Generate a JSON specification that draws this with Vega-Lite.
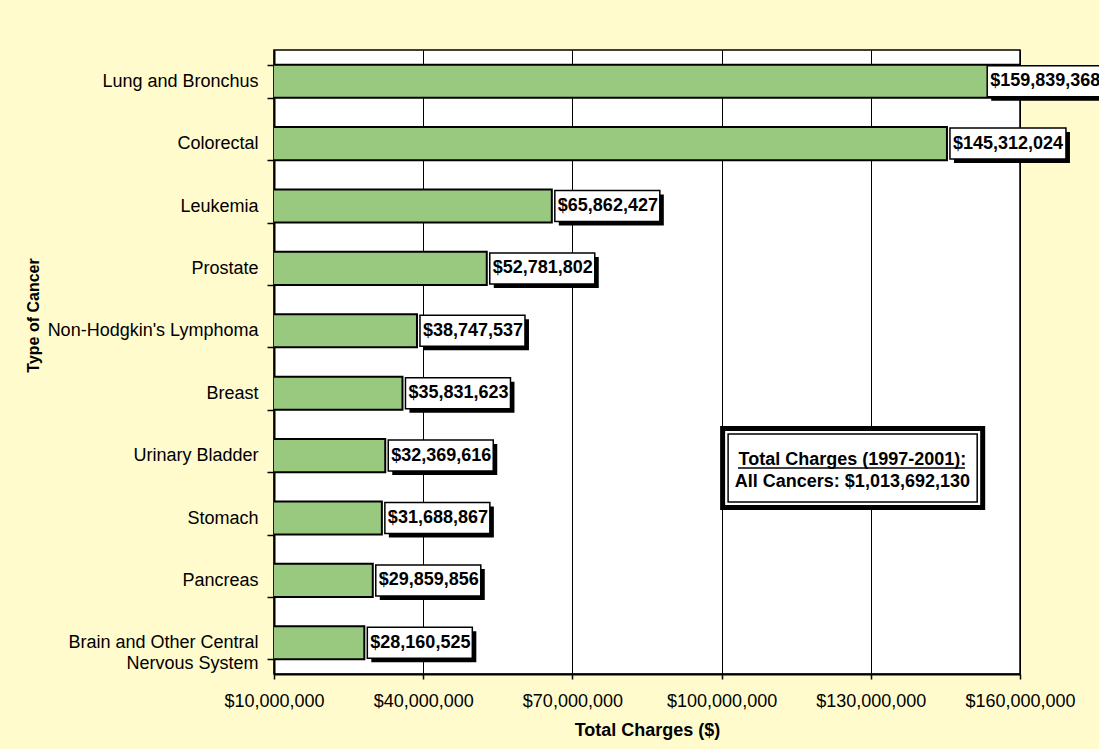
{
  "$schema": "https://vega.github.io/schema/vega-lite/v6.json",
  "width": 746,
  "height": 624,
  "autosize": {"type": "none"},
  "padding": {"left": 274, "top": 50, "right": 79, "bottom": 75},
  "background": "#FFFBCD",
  "config": {
    "font": "Liberation Sans",
    "view": {"fill": "white", "stroke": "black", "strokeWidth": 1.5}
  },
  "datasets": {
    "cancer": [
      {"cancer": "Lung and Bronchus", "value": 159839368},
      {"cancer": "Colorectal", "value": 145312024},
      {"cancer": "Leukemia", "value": 65862427},
      {"cancer": "Prostate", "value": 52781802},
      {"cancer": "Non-Hodgkin's Lymphoma", "value": 38747537},
      {"cancer": "Breast", "value": 35831623},
      {"cancer": "Urinary Bladder", "value": 32369616},
      {"cancer": "Stomach", "value": 31688867},
      {"cancer": "Pancreas", "value": 29859856},
      {"cancer": "Brain and Other Central Nervous System", "value": 28160525}
    ],
    "total": [
      {"line1": "Total Charges (1997-2001):", "line2": "All Cancers: $1,013,692,130"}
    ]
  },
  "data": {"name": "cancer"},
  "layer": [
    {
      "mark": {"type": "bar", "fill": "#99C97F", "stroke": "black", "strokeWidth": 2, "clip": true},
      "encoding": {
        "y": {
          "field": "cancer",
          "type": "nominal",
          "title": "Type of Cancer",
          "scale": {
            "domain": ["Lung and Bronchus", "Colorectal", "Leukemia", "Prostate", "Non-Hodgkin's Lymphoma", "Breast", "Urinary Bladder", "Stomach", "Pancreas", "Brain and Other Central Nervous System"],
            "paddingInner": 0.47,
            "paddingOuter": 0.235
          },
          "axis": {
            "tickBand": "extent",
            "tickSize": 7,
            "tickWidth": 1.5,
            "tickColor": "black",
            "domainColor": "black",
            "domainWidth": 2,
            "labelFontSize": 18,
            "labelColor": "black",
            "labelPadding": 9,
            "labelLimit": 400,
            "labelLineHeight": 21,
            "labelExpr": "datum.value == 'Brain and Other Central Nervous System' ? ['Brain and Other Central', 'Nervous System'] : datum.value",
            "titleFontSize": 16,
            "titleFontWeight": "bold",
            "titleColor": "black",
            "titleX": -233,
            "titleY": 265
          }
        },
        "x": {
          "field": "value",
          "type": "quantitative",
          "title": "Total Charges ($)",
          "scale": {"domain": [10000000, 160000000], "zero": false, "nice": false},
          "axis": {
            "values": [10000000, 40000000, 70000000, 100000000, 130000000, 160000000],
            "format": "$,.0f",
            "grid": true,
            "gridColor": "black",
            "gridWidth": 1,
            "gridOpacity": 1,
            "tickSize": 5,
            "tickWidth": 1.5,
            "tickColor": "black",
            "domainColor": "black",
            "domainWidth": 2,
            "labelFontSize": 18,
            "labelColor": "black",
            "labelPadding": 13,
            "labelFlush": false,
            "labelOverlap": false,
            "titleFontSize": 18,
            "titleFontWeight": "bold",
            "titleColor": "black",
            "titleY": 47
          }
        }
      }
    },
    {
      "transform": [{"filter": "datum.value >= 150000000"}],
      "encoding": {
        "y": {"field": "cancer", "type": "nominal"},
        "x": {"field": "value", "type": "quantitative"},
        "x2": {"field": "value"}
      },
      "layer": [
        {"mark": {"type": "bar", "fill": "black", "height": 31, "yOffset": 4, "xOffset": -28, "x2Offset": 88}},
        {"mark": {"type": "bar", "fill": "white", "stroke": "black", "strokeWidth": 1.5, "height": 31, "xOffset": -32, "x2Offset": 84}},
        {
          "mark": {"type": "text", "fontSize": 18, "fontWeight": "bold", "align": "left", "baseline": "middle", "dx": -29, "color": "black"},
          "encoding": {"text": {"field": "value", "type": "quantitative", "format": "$,.0f"}}
        }
      ]
    },
    {
      "transform": [{"filter": "datum.value >= 100000000 && datum.value < 150000000"}],
      "encoding": {
        "y": {"field": "cancer", "type": "nominal"},
        "x": {"field": "value", "type": "quantitative"},
        "x2": {"field": "value"}
      },
      "layer": [
        {"mark": {"type": "bar", "fill": "black", "height": 31, "yOffset": 4, "xOffset": 7, "x2Offset": 123}},
        {"mark": {"type": "bar", "fill": "white", "stroke": "black", "strokeWidth": 1.5, "height": 31, "xOffset": 3, "x2Offset": 119}},
        {
          "mark": {"type": "text", "fontSize": 18, "fontWeight": "bold", "align": "left", "baseline": "middle", "dx": 6, "color": "black"},
          "encoding": {"text": {"field": "value", "type": "quantitative", "format": "$,.0f"}}
        }
      ]
    },
    {
      "transform": [{"filter": "datum.value < 100000000"}],
      "encoding": {
        "y": {"field": "cancer", "type": "nominal"},
        "x": {"field": "value", "type": "quantitative"},
        "x2": {"field": "value"}
      },
      "layer": [
        {"mark": {"type": "bar", "fill": "black", "height": 31, "yOffset": 4, "xOffset": 7, "x2Offset": 112}},
        {"mark": {"type": "bar", "fill": "white", "stroke": "black", "strokeWidth": 1.5, "height": 31, "xOffset": 3, "x2Offset": 108}},
        {
          "mark": {"type": "text", "fontSize": 18, "fontWeight": "bold", "align": "left", "baseline": "middle", "dx": 6, "color": "black"},
          "encoding": {"text": {"field": "value", "type": "quantitative", "format": "$,.0f"}}
        }
      ]
    },
    {
      "data": {"name": "total"},
      "encoding": {
        "y": {"datum": "Urinary Bladder", "type": "nominal"}
      },
      "layer": [
        {
          "mark": {"type": "bar", "fill": "black", "height": 84, "yOffset": 12.4},
          "encoding": {"x": {"datum": 99700000, "type": "quantitative"}, "x2": {"datum": 153000000}}
        },
        {
          "mark": {"type": "bar", "fill": "white", "height": 74, "yOffset": 12.4, "xOffset": 5, "x2Offset": -5},
          "encoding": {"x": {"datum": 99700000, "type": "quantitative"}, "x2": {"datum": 153000000}}
        },
        {
          "mark": {"type": "bar", "fill": "white", "stroke": "black", "strokeWidth": 1.5, "height": 68, "yOffset": 12.4, "xOffset": 8, "x2Offset": -8},
          "encoding": {"x": {"datum": 99700000, "type": "quantitative"}, "x2": {"datum": 153000000}}
        },
        {
          "mark": {"type": "text", "fontSize": 18, "fontWeight": "bold", "align": "center", "baseline": "middle", "yOffset": 4, "color": "black"},
          "encoding": {"x": {"datum": 126300000, "type": "quantitative"}, "text": {"field": "line1"}}
        },
        {
          "mark": {"type": "text", "fontSize": 18, "fontWeight": "bold", "align": "center", "baseline": "middle", "yOffset": 26.4, "color": "black"},
          "encoding": {"x": {"datum": 126300000, "type": "quantitative"}, "text": {"field": "line2"}}
        },
        {
          "mark": {"type": "rule", "stroke": "black", "strokeWidth": 1.5, "yOffset": 12.4},
          "encoding": {"x": {"datum": 103300000, "type": "quantitative"}, "x2": {"datum": 148950000}}
        }
      ]
    }
  ]
}
